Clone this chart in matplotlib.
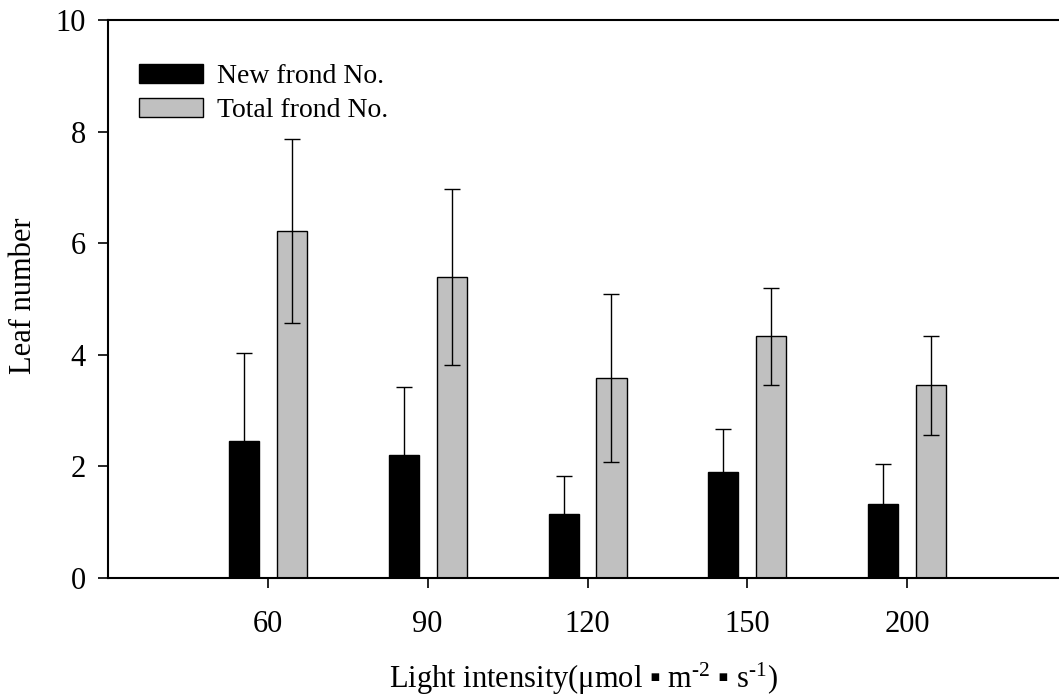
import matplotlib
matplotlib.use("Agg")
import matplotlib.pyplot as plt
import numpy as np

plt.rcParams["font.family"] = ["Liberation Serif", "DejaVu Sans"]
plt.rcParams["mathtext.fontset"] = "custom"
plt.rcParams["mathtext.rm"] = "Liberation Serif"
plt.rcParams["mathtext.it"] = "Liberation Serif:italic"

categories = ["60", "90", "120", "150", "200"]
new_frond = [2.45, 2.20, 1.14, 1.90, 1.33]
new_frond_err = [1.58, 1.23, 0.69, 0.77, 0.71]
total_frond = [6.22, 5.40, 3.58, 4.33, 3.45]
total_frond_err = [1.65, 1.58, 1.51, 0.87, 0.88]


def main() -> None:
    fig = plt.figure(figsize=(10.59, 7.0), dpi=100)
    ax = fig.add_axes([0.102, 0.1743, 0.898, 0.7971])

    x = np.arange(len(categories))
    width = 0.188
    offset = 0.15

    ax.bar(x - offset, new_frond, width, color="black", edgecolor="black",
           linewidth=1.0, label="New frond No.", zorder=2)
    ax.bar(x + offset, total_frond, width, color="#c0c0c0", edgecolor="black",
           linewidth=1.0, label="Total frond No.", zorder=2)
    ax.errorbar(x - offset, new_frond, yerr=new_frond_err, fmt="none",
                ecolor="black", elinewidth=1.0, capsize=6, capthick=1.0, zorder=3)
    ax.errorbar(x + offset, total_frond, yerr=total_frond_err, fmt="none",
                ecolor="black", elinewidth=1.0, capsize=6, capthick=1.0, zorder=3)

    ax.set_xlim(-1.0, 4.95)
    ax.set_ylim(0, 10)
    ax.set_xticks(x)
    ax.set_xticklabels(categories)
    ax.set_yticks([0, 2, 4, 6, 8, 10])

    ax.spines["right"].set_visible(False)
    for side in ["left", "bottom", "top"]:
        ax.spines[side].set_linewidth(1.5)
    ax.tick_params(axis="both", direction="out", length=7, width=1.2,
                   labelsize=22)
    ax.tick_params(axis="y", pad=9)
    ax.tick_params(axis="x", pad=16)

    fig.text(24 / 1059, 0.577, "Leaf number", fontsize=22, rotation=90,
             ha="center", va="center")
    fig.text(583 / 1059, 1 - 688 / 700,
             r"Light intensity(μmol ▪ m$^{\text{-2}}$ ▪ s$^{\text{-1}}$)",
             fontsize=22, ha="center", va="baseline")

    ax.legend(loc="upper left", bbox_to_anchor=(0.0326, 0.921), frameon=False,
              fontsize=20, handlelength=2.3, handleheight=0.65,
              labelspacing=0.33, borderpad=0, borderaxespad=0,
              handletextpad=0.5)

    fig.savefig("out.png", dpi=100)
    plt.close(fig)


if __name__ == "__main__":
    main()
